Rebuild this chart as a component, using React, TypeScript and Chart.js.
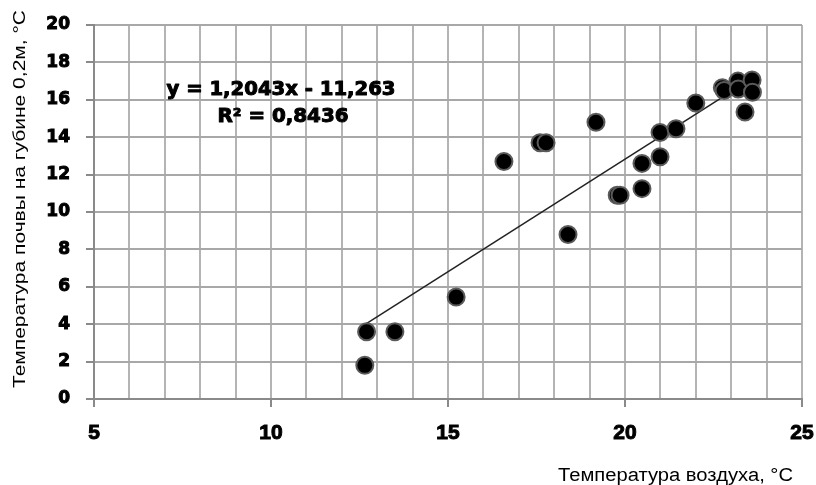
import React, { useEffect, useRef } from "react";
import { Chart, registerables } from "chart.js";

Chart.register(...registerables);

// Air temperature, °C (x)
const airTemp = [
  12.65, 12.7, 13.5, 15.23, 16.58, 17.6, 17.77, 18.39, 19.18, 19.78, 19.86,
  20.48, 20.48, 20.99, 20.99, 21.44, 22.0, 22.75, 22.8, 23.19, 23.2, 23.59,
  23.6, 23.39,
];
// Soil temperature at 0.2 m, °C (y)
const soilTemp = [
  1.8, 3.6, 3.6, 5.45, 12.7, 13.7, 13.7, 8.8, 14.8, 10.9, 10.9, 12.6, 11.25,
  12.95, 14.25, 14.45, 15.83, 16.65, 16.5, 17.0, 16.58, 17.06, 16.4, 15.35,
];

const xLabelValues = [5, 10, 15, 20, 25];
const slope = 1.2043;
const intercept = -11.263;
const equationLabel = "y = 1,2043x - 11,263";
const r2Label = "R² = 0,8436";
const xTitle = "Температура воздуха, °C";
const yTitle = "Температура почвы на губине 0,2м, °C";

function fitText(
  ctx: CanvasRenderingContext2D,
  text: string,
  x: number,
  y: number,
  width: number,
  stroke = 0
) {
  const w = ctx.measureText(text).width;
  const s = width / w;
  ctx.save();
  ctx.translate(x, y);
  ctx.scale(s, 1);
  if (stroke > 0) {
    ctx.lineWidth = stroke;
    ctx.strokeStyle = "#000";
    ctx.lineJoin = "round";
    ctx.strokeText(text, 0, 0);
  }
  ctx.fillText(text, 0, 0);
  ctx.restore();
}

const textPlugin = {
  id: "texts",
  afterDraw(chart: any) {
    const ctx = chart.ctx as CanvasRenderingContext2D;
    ctx.save();
    ctx.fillStyle = "#000";
    // equation
    ctx.font = "bold 19px 'DejaVu Sans'";
    ctx.textAlign = "center";
    ctx.textBaseline = "middle";
    fitText(ctx, equationLabel, 281, 90, 229, 1);
    fitText(ctx, r2Label, 283, 117, 131, 1);
    // x title
    ctx.font = "18px 'Liberation Sans'";
    ctx.textAlign = "left";
    ctx.textBaseline = "alphabetic";
    fitText(ctx, xTitle, 558, 481, 235);
    // y title
    ctx.font = "17px 'Liberation Sans'";
    ctx.textAlign = "center";
    ctx.save();
    ctx.translate(25, 199);
    ctx.rotate(-Math.PI / 2);
    fitText(ctx, yTitle, 0, 0, 378);
    ctx.restore();
    ctx.restore();
  },
};

export default function App() {
  const ref = useRef<HTMLCanvasElement | null>(null);

  useEffect(() => {
    if (!ref.current) return;
    const points = airTemp.map((x, i) => ({ x, y: soilTemp[i] }));
    const minX = Math.min(...airTemp);
    const maxX = Math.max(...airTemp);
    const trend = [
      { x: minX, y: slope * minX + intercept },
      { x: maxX, y: slope * maxX + intercept },
    ];
    const chart = new Chart(ref.current, {
      type: "scatter",
      data: {
        datasets: [
          {
            label: "data",
            data: points,
            backgroundColor: "#000",
            borderColor: "#5a5a5a",
            borderWidth: 2,
            pointRadius: 8.5,
            order: 0,
          },
          {
            label: "trend",
            data: trend,
            showLine: true,
            borderColor: "#222",
            borderWidth: 1.5,
            pointRadius: 0,
            order: 1,
          },
        ],
      },
      options: {
        responsive: false,
        animation: false,
        devicePixelRatio: 1,
        layout: { padding: { top: 25, right: 14, bottom: 0, left: 0 } },
        plugins: {
          legend: { display: false },
          tooltip: { enabled: false },
          title: { display: false },
        },
        scales: {
          x: {
            type: "linear",
            min: 5,
            max: 25,
            afterFit: (s: any) => {
              s.height = 86;
              s.paddingLeft = 0;
              s.paddingRight = 0;
            },
            ticks: {
              stepSize: 1,
              autoSkip: false,
              maxRotation: 0,
              padding: 14,
              color: "#000",
              textStrokeColor: "#000",
              textStrokeWidth: 1,
              font: { family: "'Liberation Sans'", weight: "bold", size: 21 },
              callback: (v: any) => (xLabelValues.includes(Number(v)) ? String(v) : ""),
            },
            grid: {
              color: "#b4b4b4",
              lineWidth: 2,
              tickLength: 8,
              tickColor: (c: any) =>
                c.tick && xLabelValues.includes(c.tick.value) ? "#8a8a8a" : "rgba(0,0,0,0)",
            },
            border: { color: "#8a8a8a", width: 2 },
          },
          y: {
            type: "linear",
            min: 0,
            max: 20,
            afterFit: (s: any) => {
              s.width = 94;
              s.paddingTop = 0;
              s.paddingBottom = 0;
            },
            ticks: {
              stepSize: 2,
              padding: 16,
              color: "#000",
              textStrokeColor: "#000",
              textStrokeWidth: 1,
              font: { family: "'DejaVu Sans'", weight: "bold", size: 17 },
            },
            grid: {
              color: "#a8a8a8",
              lineWidth: 2,
              tickLength: 8,
              tickColor: "#8a8a8a",
            },
            border: { color: "#8a8a8a", width: 2 },
          },
        },
      },
      plugins: [textPlugin],
    });
    return () => chart.destroy();
  }, []);

  return (
    <div style={{ position: "fixed", left: 0, top: 0, width: 816, height: 485, background: "#fff" }}>
      <canvas ref={ref} width={816} height={485} style={{ width: 816, height: 485 }} />
    </div>
  );
}
